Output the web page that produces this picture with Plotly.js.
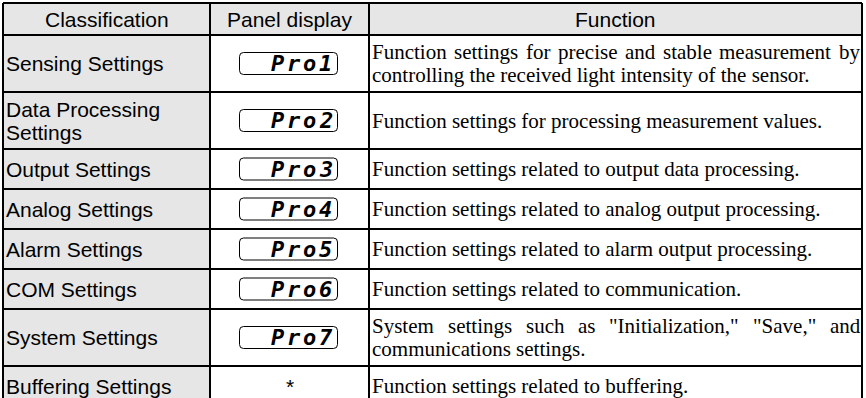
<!DOCTYPE html>
<html>
<head>
<meta charset="utf-8">
<script src="https://cdn.plot.ly/plotly-3.0.1.min.js"></script>
<style>html,body{margin:0;padding:0;background:#fff;}#chart{width:866px;height:398px;}</style>
</head>
<body>
<div id="chart"></div>
<script>
// ---- data ----
const headers = ["Classification", "Panel display", "Function"];
const classifications = [
  "Sensing Settings",
  "Data Processing<br>Settings",
  "Output Settings",
  "Analog Settings",
  "Alarm Settings",
  "COM Settings",
  "System Settings",
  "Buffering Settings"
];
const panelCodes = ["Pro1", "Pro2", "Pro3", "Pro4", "Pro5", "Pro6", "Pro7", "*"];
const functions = [
  "Function settings for precise and stable measurement by<br>controlling the received light intensity of the sensor.",
  "Function settings for processing measurement values.",
  "Function settings related to output data processing.",
  "Function settings related to analog output processing.",
  "Function settings related to alarm output processing.",
  "Function settings related to communication.",
  "System settings such as \"Initialization,\" \"Save,\" and<br>communications settings.",
  "Function settings related to buffering."
];
const rowLines = [2, 2, 1, 1, 1, 1, 2, 1];

// ---- layout geometry / styles ----
const W = 866, H = 398;
const colEdges = [3, 210, 369, 862];
const tableTop = 3, headerH = 32;
const oneLineH = 40, twoLineH = 57;
const gray = "#e6e6e6";
const sansFam = "Liberation Sans";
const serifFam = "Liberation Serif";
const sansSize = 21, serifSize = 21, lineGap = 23;
const segFam = "DejaVu Sans Mono";

const rowEdges = [tableTop, tableTop + headerH];
rowLines.forEach(n => rowEdges.push(rowEdges[rowEdges.length - 1] + (n === 2 ? twoLineH : oneLineH)));
const tableBottom = rowEdges[rowEdges.length - 1];

const shapes = [];
const annotations = [];
const gridLine = {color: "#000", width: 2};

const ctx = document.createElement("canvas").getContext("2d");
function textWidth(t, fam, size) { ctx.font = `${size}px "${fam}"`; return ctx.measureText(t).width; }

function addText(x, y, text, fam, size, anchor, extraFont) {
  annotations.push({x, y, text, showarrow: false, xanchor: anchor, yanchor: "middle", align: anchor,
    borderpad: 0, borderwidth: 0,
    font: Object.assign({family: fam, size, color: "#000"}, extraFont || {})});
}

// backgrounds
shapes.push({type: "rect", x0: colEdges[0], x1: colEdges[3], y0: rowEdges[0], y1: rowEdges[1], fillcolor: gray, line: {width: 0}, layer: "below"});
shapes.push({type: "rect", x0: colEdges[0], x1: colEdges[1], y0: rowEdges[1], y1: tableBottom, fillcolor: gray, line: {width: 0}, layer: "below"});

// grid lines
rowEdges.forEach(y => shapes.push({type: "line", x0: colEdges[0], x1: colEdges[3], y0: y, y1: y, line: gridLine}));
colEdges.forEach(x => shapes.push({type: "line", x0: x, x1: x, y0: tableTop, y1: tableBottom, line: gridLine}));

// headers
headers.forEach((h, i) => addText((colEdges[i] + colEdges[i + 1]) / 2, (rowEdges[0] + rowEdges[1]) / 2, h, sansFam, sansSize, "center"));

// rows
classifications.forEach((c, i) => {
  const y0 = rowEdges[i + 1], y1 = rowEdges[i + 2], yc = (y0 + y1) / 2;

  // classification
  const cl = c.split("<br>");
  cl.forEach((t, k) => addText(colEdges[0] + 3, yc + (k - (cl.length - 1) / 2) * lineGap, t, sansFam, sansSize, "left"));

  // panel display
  const code = panelCodes[i];
  const cx = (colEdges[1] + colEdges[2]) / 2;
  if (code !== "*") {
    const bx0 = cx - 50, bx1 = cx + 48, by0 = yc - 11, by1 = yc + 11, r = 4;
    shapes.push({type: "path", line: {color: "#000", width: 1},
      path: `M${bx0 + r},${by0} H${bx1 - r} Q${bx1},${by0} ${bx1},${by0 + r} V${by1 - r} Q${bx1},${by1} ${bx1 - r},${by1} H${bx0 + r} Q${bx0},${by1} ${bx0},${by1 - r} V${by0 + r} Q${bx0},${by0} ${bx0 + r},${by0} Z`});
    const chars = code.split("");
    const pitch = 16;
    chars.forEach((ch, k) => addText(bx1 - 4 - (chars.length - k - 0.5) * pitch, yc, ch, segFam, 22, "center",
      {style: "italic", weight: "bold"}));
  } else {
    addText(cx, yc, code, sansFam, sansSize, "center");
  }

  // function (first line of a wrapped paragraph is justified)
  const fl = functions[i].split("<br>");
  const tx0 = colEdges[2] + 3, tx1 = colEdges[3] - 2;
  fl.forEach((t, k) => {
    const y = yc + (k - (fl.length - 1) / 2) * lineGap;
    if (k < fl.length - 1) {
      const words = t.split(" ");
      const widths = words.map(w => textWidth(w, serifFam, serifSize));
      const gap = (tx1 - tx0 - widths.reduce((a, b) => a + b, 0)) / (words.length - 1);
      let x = tx0;
      words.forEach((w, j) => { addText(x, y, w, serifFam, serifSize, "left"); x += widths[j] + gap; });
    } else {
      addText(tx0, y, t, serifFam, serifSize, "left");
    }
  });
});

const layout = {
  width: W, height: H,
  margin: {l: 0, r: 0, t: 0, b: 0},
  paper_bgcolor: "#fff", plot_bgcolor: "#fff",
  xaxis: {range: [0, W], visible: false, fixedrange: true},
  yaxis: {range: [H, 0], visible: false, fixedrange: true},
  shapes, annotations, showlegend: false
};
Plotly.newPlot("chart", [{x: [], y: [], type: "scatter"}], layout, {staticPlot: true, displayModeBar: false});
</script>
</body>
</html>
